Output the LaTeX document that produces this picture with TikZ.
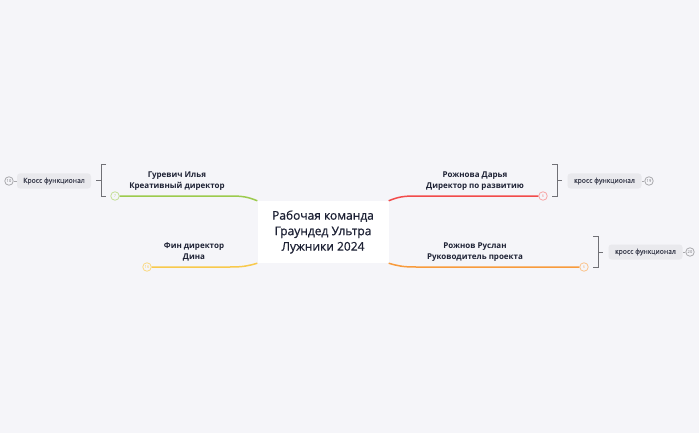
\documentclass[tikz,border=0pt]{standalone}
\usepackage{fontspec}
\setmainfont{Open Sans}
\newfontfamily\medfont{Open Sans}[FakeBold=0.7]
\usepackage{xcolor}
\usepackage{tikz}
\definecolor{bgcolor}{HTML}{F5F5F9}
\definecolor{textcolor}{HTML}{1E2235}
\definecolor{greencolor}{HTML}{9CCB4E}
\definecolor{yellowcolor}{HTML}{F8C94C}
\definecolor{redcolor}{HTML}{F24B4B}
\definecolor{orangecolor}{HTML}{F89B3D}
\definecolor{bracketcolor}{HTML}{707076}
\definecolor{boxcolor}{HTML}{E9E9ED}

\begin{document}
\begin{tikzpicture}[x=1pt,y=-1pt,
  branch/.style={line width=1.5pt},
  num/.style={circle,draw,fill=bgcolor,inner sep=0pt,minimum size=8.5pt,line width=0.8pt,font=\fontsize{4}{4}\selectfont},
  who/.style={font=\fontsize{8}{10.5}\selectfont\bfseries,text=textcolor,align=center},
  cross/.style={fill=boxcolor,rounded corners=3pt,minimum width=74pt,minimum height=15pt,inner sep=0pt,font=\fontsize{6.8}{7}\selectfont\medfont,text=textcolor!85},
  brk/.style={bracketcolor,line width=1pt}]
\fill[bgcolor] (0,0) rectangle (699,433);
\useasboundingbox (0,0) rectangle (699,433);
\node[fill=white,minimum width=131pt,minimum height=62pt,align=center,text=textcolor,font=\fontsize{12}{15.5}\selectfont\medfont] (center) at (323,232) {Рабочая команда\\Граундед Ультра\\Лужники 2024};
% numbered ends of the branches
\node[num,draw=greencolor!60,text=greencolor!70] (n7) at (115,196) {7};
\node[num,draw=yellowcolor!70,text=yellowcolor] (n16) at (147,267) {16};
\node[num,draw=redcolor!50,text=redcolor!60] (n6a) at (543,196) {6};
\node[num,draw=orangecolor!60,text=orangecolor!70] (n6b) at (584,267) {6};
\draw[branch,greencolor] (center.north west) .. controls (248,197) and (243,196) .. (230,196) -- (n7);
\draw[branch,yellowcolor] (center.south west) .. controls (248,266) and (243,267) .. (230,267) -- (n16);
\draw[branch,redcolor] (center.north east) .. controls (398,197) and (403,196) .. (416,196) -- (n6a);
\draw[branch,orangecolor] (center.south east) .. controls (398,266) and (403,267) .. (416,267) -- (n6b);
\node[who] (gurevich) at (177,181) {Гуревич Илья\\Креативный директор};
\node[who] (fin) at (194,252) {Фин директор\\Дина};
\node[who] (rozhnova) at (475,181) {Рожнова Дарья\\Директор по развитию};
\node[who] (rozhnov) at (475,252) {Рожнов Руслан\\Руководитель проекта};
% cross-functional boxes
\foreach \name/\x/\y/\num/\nx/\ntext in {crossa/54/181/n10/9/Кросс функционал, crossb/604.5/181/n19/649/кросс функционал, crossc/645.5/252/n20/690/кросс функционал}
{
  \node[cross] (\name) at (\x,\y) {\ntext};
  \node[num,draw=bracketcolor!60,text=bracketcolor] (\num) at (\nx,\y) {};
  \draw[bracketcolor!60,line width=0.8pt] (\num) -- (\name);
}
\node[font=\fontsize{4}{4}\selectfont,text=bracketcolor] at (n10) {10};
\node[font=\fontsize{4}{4}\selectfont,text=bracketcolor] at (n19) {19};
\node[font=\fontsize{4}{4}\selectfont,text=bracketcolor] at (n20) {20};
\draw[brk] (106,165) -- (101,165) -- (101,196) -- (106,196);
\draw[brk] (101,181) -- (96,181);
\draw[brk] (552,165) -- (557,165) -- (557,196) -- (552,196);
\draw[brk] (557,181) -- (562,181);
\draw[brk] (593,236) -- (598,236) -- (598,267) -- (593,267);
\draw[brk] (598,252) -- (603,252);
\end{tikzpicture}
\end{document}
